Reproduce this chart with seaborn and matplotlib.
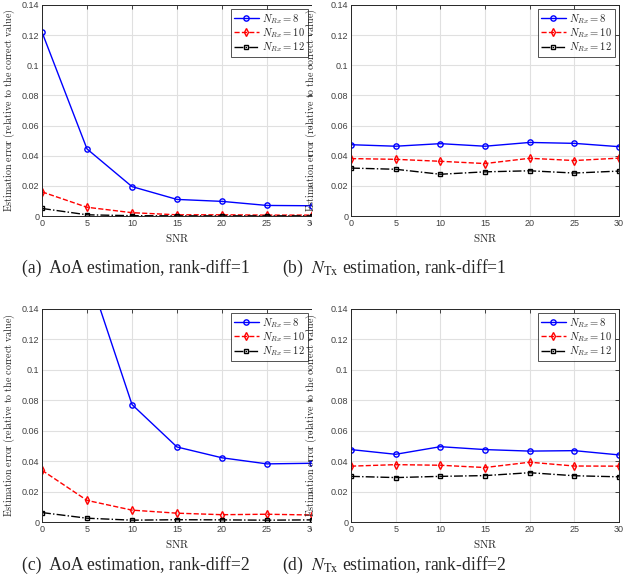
import numpy as np
import pandas as pd
import matplotlib
matplotlib.use("Agg")
import matplotlib.pyplot as plt
import seaborn as sns
from matplotlib.patches import Rectangle

# -------- data --------
snr = [0, 5, 10, 15, 20, 25, 30]

aoa_r1_n8 = [0.122, 0.0445, 0.0195, 0.011, 0.0097, 0.0070, 0.0068]
aoa_r1_n10 = [0.016, 0.0058, 0.0022, 0.0008, 0.0008, 0.0006, 0.0006]
aoa_r1_n12 = [0.005, 0.0008, 0.0002, 0.0001, 0.0001, 0.0001, 0.0001]

ntx_r1_n8 = [0.0473, 0.0463, 0.0480, 0.0463, 0.0488, 0.0482, 0.0460]
ntx_r1_n10 = [0.0381, 0.0376, 0.0363, 0.0348, 0.0383, 0.0368, 0.0384]
ntx_r1_n12 = [0.0318, 0.0310, 0.0277, 0.0293, 0.0300, 0.0285, 0.0298]

aoa_r2_n8 = [0.30, 0.166, 0.0772, 0.0493, 0.0422, 0.0382, 0.0386]
aoa_r2_n10 = [0.034, 0.0142, 0.0078, 0.0058, 0.0048, 0.0051, 0.0046]
aoa_r2_n12 = [0.0062, 0.0025, 0.0012, 0.0015, 0.0014, 0.0012, 0.0014]

ntx_r2_n8 = [0.0476, 0.0445, 0.0495, 0.0476, 0.0466, 0.0469, 0.0441]
ntx_r2_n10 = [0.0367, 0.0377, 0.0373, 0.0358, 0.0393, 0.0368, 0.0367]
ntx_r2_n12 = [0.0300, 0.0292, 0.0300, 0.0305, 0.0324, 0.0304, 0.0297]

labels = [r'$N_{Rx}\mathrm{=8}$', r'$N_{Rx}\mathrm{=10}$', r'$N_{Rx}\mathrm{=12}$']
captions = [
    "(a)  AoA estimation, rank-diff=1",
    r"(b)  $N_{\mathrm{Tx}}$ estimation, rank-diff=1",
    "(c)  AoA estimation, rank-diff=2",
    r"(d)  $N_{\mathrm{Tx}}$ estimation, rank-diff=2",
]
yticks = [0, 0.02, 0.04, 0.06, 0.08, 0.1, 0.12, 0.14]
ytick_labels = ["0", "0.02", "0.04", "0.06", "0.08", "0.1", "0.12", "0.14"]

# -------- style --------
sns.set_style("white")
plt.rcParams['font.family'] = ['Liberation Sans', 'DejaVu Sans']
plt.rcParams['mathtext.fontset'] = 'cm'

fig = plt.figure(figsize=(6.24, 5.88), dpi=100)

W, H = 624, 588
def px_axes(left, top, right, bottom, z):
    return fig.add_axes([left / W, 1 - bottom / H, (right - left) / W, (bottom - top) / H], zorder=z)

axes = [
    px_axes(42, 5, 312, 216, 0),
    px_axes(351, 5, 619, 216, 2),
    px_axes(42, 309, 312, 522, 0),
    px_axes(351, 309, 619, 522, 2),
]
ylab_x = [-0.093, -0.12, -0.093, -0.12]

# white sheet hiding the clipped right edge of the left panels
fig.patches.append(Rectangle((0.5, 0), 0.5, 1, transform=fig.transFigure,
                             facecolor='white', edgecolor='none', zorder=1))

panels = [
    (aoa_r1_n8, aoa_r1_n10, aoa_r1_n12),
    (ntx_r1_n8, ntx_r1_n10, ntx_r1_n12),
    (aoa_r2_n8, aoa_r2_n10, aoa_r2_n12),
    (ntx_r2_n8, ntx_r2_n10, ntx_r2_n12),
]

styles = [
    dict(color='#0000FF', linestyle='-', marker='o', markersize=3.8),
    dict(color='#FF0000', linestyle='--', marker='d', markersize=3.8),
    dict(color='black', linestyle='-.', marker='s', markersize=3.2),
]

for ax, series, lx in zip(axes, panels, ylab_x):
    for vals, lab, st in zip(series, labels, styles):
        sns.lineplot(x=snr, y=vals, ax=ax, label=lab, linewidth=1.0,
                     markerfacecolor='none', markeredgecolor=st['color'],
                     markeredgewidth=1.0, **st)
    ax.set_xlim(0, 30)
    ax.set_ylim(0, 0.14)
    ax.set_xticks(snr)
    ax.set_yticks(yticks)
    ax.set_yticklabels(ytick_labels)
    ax.grid(True, color='#e0e0e0', linewidth=0.8)
    ax.set_axisbelow(True)
    ax.tick_params(direction='in', length=3, width=0.6, labelsize=6.5,
                   colors='#262626', labelcolor='#404040', pad=2,
                   top=True, right=True)
    for sp in ax.spines.values():
        sp.set_color('#262626')
        sp.set_linewidth(0.7)
    ax.set_xlabel(r'$\mathrm{SNR}$', fontsize=8, labelpad=1)
    ax.set_ylabel(r'$\mathrm{Estimation\ error\ (relative\ to\ the\ correct\ value)}$',
                  fontsize=7.2, labelpad=2)
    ax.yaxis.set_label_coords(lx, 0.5)
    ax.xaxis.set_label_coords(0.5, -0.075)
    leg = ax.legend(loc='upper right', fontsize=7.6, frameon=True, fancybox=False,
                    handlelength=2.4, handletextpad=0.3, borderpad=0.25,
                    labelspacing=0.05, borderaxespad=0.4)
    leg.get_frame().set_edgecolor('#262626')
    leg.get_frame().set_linewidth(0.7)

# -------- captions --------
cap_pos = [(22, 268), (282, 268), (22, 565), (282, 565)]
for (cx, cy), txt in zip(cap_pos, captions):
    fig.text(cx / W, 1 - cy / H, txt, ha='left', va='center', fontsize=12.7,
             family=['Liberation Serif', 'DejaVu Serif'], math_fontfamily='stix',
             zorder=3)

fig.savefig("out.png", dpi=100)
